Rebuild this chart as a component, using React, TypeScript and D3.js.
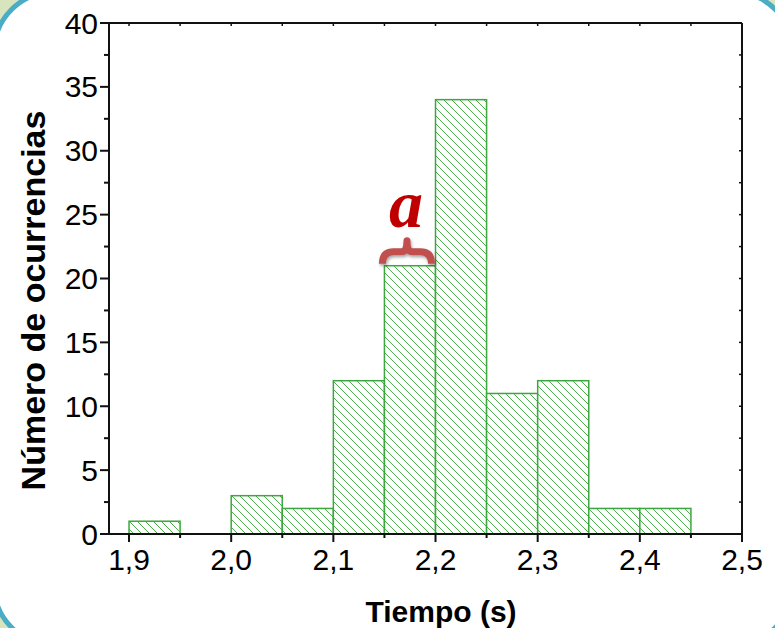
import React, { useEffect, useRef } from "react";
import * as d3 from "d3";

// histogram bins (start of each bin, width 0.05 s)
const binStarts = [1.9, 1.95, 2.0, 2.05, 2.1, 2.15, 2.2, 2.25, 2.3, 2.35, 2.4];
const counts = [1, 0, 3, 2, 12, 21, 34, 11, 12, 2, 2];
const binWidth = 0.05;

const xTicks = [1.9, 2.0, 2.1, 2.2, 2.3, 2.4, 2.5];
const xMinorTicks = [1.95, 2.05, 2.15, 2.25, 2.35, 2.45];
const yTicks = [0, 5, 10, 15, 20, 25, 30, 35, 40];
const yMinorTicks = [2.5, 7.5, 12.5, 17.5, 22.5, 27.5, 32.5, 37.5];

const xTitle = "Tiempo (s)";
const yTitle = "Número de ocurrencias";

const sans = "'Liberation Sans', Arial, sans-serif";

export default function App() {
  const svgRef = useRef<SVGSVGElement>(null);

  useEffect(() => {
    const W = 775;
    const H = 628;
    const left = 109, right = 742, top = 23, bottom = 534;

    const svg = d3.select(svgRef.current).attr("width", W).attr("height", H);
    svg.selectAll("*").remove();

    const x = d3.scaleLinear().domain([1.8804, 2.5]).range([left, right]);
    const y = d3.scaleLinear().domain([0, 40]).range([bottom, top]);
    const fmt = (v: number) => d3.format(".1f")(v).replace(".", ",");

    // background frame (rounded box partly cut off)
    svg.append("rect").attr("width", W).attr("height", H).attr("fill", "#d7e4bd");
    svg
      .append("rect")
      .attr("x", -6)
      .attr("y", -8)
      .attr("width", 799)
      .attr("height", 653)
      .attr("rx", 60)
      .attr("fill", "#ffffff")
      .attr("stroke", "#4bacc6")
      .attr("stroke-width", 5);

    // hatch pattern
    const defs = svg.append("defs");
    const pat = defs
      .append("pattern")
      .attr("id", "hatch")
      .attr("patternUnits", "userSpaceOnUse")
      .attr("width", 8)
      .attr("height", 8);
    pat.append("rect").attr("width", 8).attr("height", 8).attr("fill", "#ffffff");
    pat
      .append("path")
      .attr("d", "M0,0 L8,8 M-2,6 L2,10 M6,-2 L10,2")
      .attr("stroke", "#4cb04c")
      .attr("stroke-width", 1);

    const shadow = defs.append("filter").attr("id", "shadow").attr("x", "-20%").attr("y", "-20%").attr("width", "140%").attr("height", "160%");
    shadow.append("feDropShadow").attr("dx", 1).attr("dy", 2).attr("stdDeviation", 1.5).attr("flood-color", "#000").attr("flood-opacity", 0.35);

    // bars
    svg
      .append("g")
      .selectAll("rect")
      .data(binStarts.map((b, i) => ({ b, c: counts[i] })).filter((d) => d.c > 0))
      .join("rect")
      .attr("x", (d) => x(d.b))
      .attr("y", (d) => y(d.c))
      .attr("width", (d) => x(d.b + binWidth) - x(d.b))
      .attr("height", (d) => y(0) - y(d.c))
      .attr("fill", "url(#hatch)")
      .attr("stroke", "#3ea63e")
      .attr("stroke-width", 1.5);

    const axisColor = "#111";

    // bottom axis
    const gx = svg.append("g").attr("transform", `translate(0,${bottom})`);
    gx.append("line").attr("x1", left - 9).attr("x2", right).attr("stroke", axisColor).attr("stroke-width", 2);
    gx.selectAll(".maj")
      .data(xTicks)
      .join("line")
      .attr("x1", (d) => x(d))
      .attr("x2", (d) => x(d))
      .attr("y2", 8)
      .attr("stroke", axisColor)
      .attr("stroke-width", 2);
    gx.selectAll(".min")
      .data(xMinorTicks)
      .join("line")
      .attr("x1", (d) => x(d))
      .attr("x2", (d) => x(d))
      .attr("y2", 4)
      .attr("stroke", axisColor)
      .attr("stroke-width", 2);
    gx.selectAll("text")
      .data(xTicks)
      .join("text")
      .attr("x", (d) => x(d))
      .attr("y", 36)
      .attr("text-anchor", "middle")
      .attr("font-family", sans)
      .attr("font-size", 30)
      .attr("fill", "#000")
      .text((d) => fmt(d));

    // left axis
    const gy = svg.append("g").attr("transform", `translate(${left},0)`);
    gy.append("line").attr("y1", top).attr("y2", bottom).attr("stroke", axisColor).attr("stroke-width", 2);
    gy.selectAll(".maj")
      .data(yTicks)
      .join("line")
      .attr("y1", (d) => y(d))
      .attr("y2", (d) => y(d))
      .attr("x2", -9)
      .attr("stroke", axisColor)
      .attr("stroke-width", 2);
    gy.selectAll(".min")
      .data(yMinorTicks)
      .join("line")
      .attr("y1", (d) => y(d))
      .attr("y2", (d) => y(d))
      .attr("x2", -5)
      .attr("stroke", axisColor)
      .attr("stroke-width", 2);
    gy.selectAll("text")
      .data(yTicks)
      .join("text")
      .attr("x", -11)
      .attr("y", (d) => y(d) + 10.5)
      .attr("text-anchor", "end")
      .attr("font-family", sans)
      .attr("font-size", 30)
      .attr("fill", "#000")
      .text((d) => d);

    // top and right frame with inward ticks
    svg.append("line").attr("x1", left).attr("x2", right).attr("y1", top).attr("y2", top).attr("stroke", axisColor).attr("stroke-width", 2);
    svg.append("line").attr("x1", right).attr("x2", right).attr("y1", top).attr("y2", bottom).attr("stroke", axisColor).attr("stroke-width", 2);
    svg
      .append("g")
      .selectAll("line")
      .data([...xTicks, ...xMinorTicks])
      .join("line")
      .attr("x1", (d) => x(d))
      .attr("x2", (d) => x(d))
      .attr("y1", top)
      .attr("y2", top + 3)
      .attr("stroke", axisColor)
      .attr("stroke-width", 1.5);
    svg
      .append("g")
      .selectAll("line")
      .data([...yTicks, ...yMinorTicks])
      .join("line")
      .attr("y1", (d) => y(d))
      .attr("y2", (d) => y(d))
      .attr("x1", right)
      .attr("x2", right - 3)
      .attr("stroke", axisColor)
      .attr("stroke-width", 1.5);

    // axis titles
    svg
      .append("text")
      .attr("x", 441)
      .attr("y", 622)
      .attr("text-anchor", "middle")
      .attr("font-family", sans)
      .attr("font-weight", "bold")
      .attr("font-size", 30)
      .text(xTitle);
    svg
      .append("text")
      .attr("transform", `translate(45,${(top + bottom) / 2 + 22}) rotate(-90)`)
      .attr("text-anchor", "middle")
      .attr("font-family", sans)
      .attr("font-weight", "bold")
      .attr("font-size", 34)
      .text(yTitle);

    // annotation: brace over the 2.15-2.20 bin and label "a"
    const bx0 = x(2.15) - 3;
    const bx1 = x(2.2) - 3;
    const bm = (bx0 + bx1) / 2;
    const by = y(21);
    svg
      .append("path")
      .attr(
        "d",
        `M${bx0 + 1},${by - 2} Q${bx0 + 1},${by - 14} ${bx0 + 12},${by - 14} L${bm - 5},${by - 14} Q${bm},${by - 14} ${bm},${by - 25} Q${bm},${by - 14} ${bm + 5},${by - 14} L${bx1 - 12},${by - 14} Q${bx1 - 1},${by - 14} ${bx1 - 1},${by - 2}`
      )
      .attr("fill", "none")
      .attr("stroke", "#c0504d")
      .attr("stroke-width", 7)
      .attr("stroke-linejoin", "round")
      .attr("filter", "url(#shadow)");
    svg
      .append("text")
      .attr("x", bm - 1)
      .attr("y", 227)
      .attr("text-anchor", "middle")
      .attr("font-family", "'Liberation Serif', 'Times New Roman', serif")
      .attr("font-weight", "bold")
      .attr("font-style", "italic")
      .attr("font-size", 68)
      .attr("fill", "#c00000")
      .text("a");
  }, []);

  return (
    <div>
      <svg ref={svgRef} style={{ position: "absolute", left: 0, top: 0, display: "block" }}></svg>
    </div>
  );
}
